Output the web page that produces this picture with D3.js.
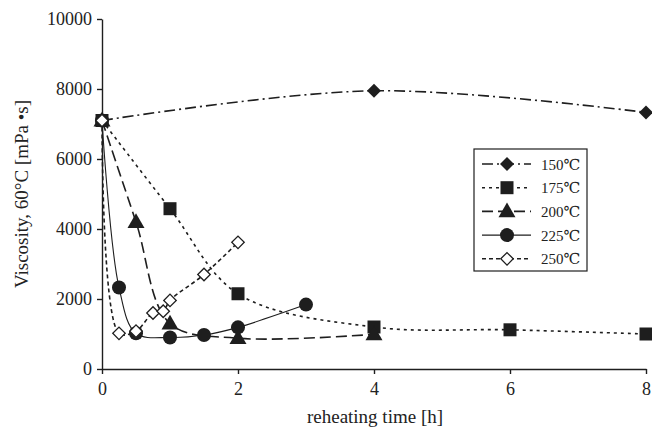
<!DOCTYPE html>
<html>
<head>
<meta charset="utf-8">
<script src="https://d3js.org/d3.v7.min.js"></script>
<style>
  body { margin: 0; background: #fff; }
  text { font-family: "Liberation Serif", "DejaVu Serif", serif; fill: #222; }
</style>
</head>
<body>
<div id="chart"></div>
<script>
  // data (time in h, viscosity in mPa·s)
  var t150 = [0, 4, 8];
  var v150 = [7100, 7950, 7330];
  var t175 = [0, 1, 2, 4, 6, 8];
  var v175 = [7100, 4580, 2150, 1200, 1120, 1000];
  var t200 = [0, 0.5, 1, 2, 4];
  var v200 = [7100, 4200, 1300, 880, 990];
  var t225 = [0, 0.25, 0.5, 1, 1.5, 2, 3];
  var v225 = [7100, 2330, 1020, 900, 970, 1190, 1840];
  var t250 = [0, 0.25, 0.5, 0.75, 0.9, 1, 1.5, 2];
  var v250 = [7100, 1020, 1080, 1600, 1650, 1960, 2700, 3620];
  var seriesNames = ["150℃", "175℃", "200℃", "225℃", "250℃"];
  var xTicks = [0, 2, 4, 6, 8];
  var yTicks = [0, 2000, 4000, 6000, 8000, 10000];

  var width = 652, height = 430;
  var x = d3.scaleLinear().domain([0, 8]).range([102, 646]);
  var y = d3.scaleLinear().domain([0, 10000]).range([369, 19]);

  var svg = d3.select("#chart").append("svg")
    .attr("width", width).attr("height", height);

  var ink = "#1e1e1e";

  // styles per series
  var dash = ["11,4,2,4", "3,4", "11,5", null, "4,3"];
  var marker = ["diamond", "square", "triangle", "circle", "open"];
  var times = [t150, t175, t200, t225, t250];
  var vals = [v150, v175, v200, v225, v250];

  function drawMarker(g, kind, cx, cy) {
    if (kind == "circle") {
      g.append("circle").attr("cx", cx).attr("cy", cy).attr("r", 7).attr("fill", ink);
    } else if (kind == "square") {
      g.append("rect").attr("x", cx - 6.5).attr("y", cy - 6.5)
        .attr("width", 13).attr("height", 13).attr("fill", ink);
    } else if (kind == "triangle") {
      g.append("path").attr("d", d3.symbol().type(d3.symbolTriangle).size(125)())
        .attr("transform", "translate(" + cx + "," + (cy + 1) + ")").attr("fill", ink);
    } else if (kind == "diamond") {
      g.append("path").attr("d", d3.symbol().type(d3.symbolSquare).size(98)())
        .attr("transform", "translate(" + cx + "," + cy + ") rotate(45)").attr("fill", ink);
    } else {
      g.append("path").attr("d", d3.symbol().type(d3.symbolSquare).size(78)())
        .attr("transform", "translate(" + cx + "," + cy + ") rotate(45)")
        .attr("fill", "#fff").attr("stroke", ink).attr("stroke-width", 1.3);
    }
  }

  // axes
  var yAxis = d3.axisLeft(y).tickValues(yTicks).tickFormat(d3.format("d"))
    .tickSize(5).tickSizeOuter(0).tickPadding(5);
  var gy = svg.append("g").attr("transform", "translate(102,0)").call(yAxis);
  var xAxis = d3.axisBottom(x).tickValues(xTicks).tickFormat(d3.format("d"))
    .tickSize(5).tickSizeOuter(0).tickPadding(8);
  var gx = svg.append("g").attr("transform", "translate(0,369)").call(xAxis);
  [gx, gy].forEach(function (g) {
    g.attr("font-family", "Liberation Serif").attr("font-size", 18);
    g.selectAll("path, line").attr("stroke", ink).attr("stroke-width", 1.4);
    g.selectAll("text").attr("fill", "#333");
  });

  // lines
  var line = d3.line()
    .x(function (d) { return x(d[0]); })
    .y(function (d) { return y(d[1]); })
    .curve(d3.curveCatmullRom.alpha(0.5));

  times.forEach(function (ts, i) {
    var pts = ts.map(function (t, j) { return [t, vals[i][j]]; });
    svg.append("path").datum(pts)
      .attr("d", line)
      .attr("fill", "none")
      .attr("stroke", ink)
      .attr("stroke-width", i == 3 ? 1.1 : 1.6)
      .attr("stroke-dasharray", dash[i]);
  });
  times.forEach(function (ts, i) {
    var g = svg.append("g");
    ts.forEach(function (t, j) { drawMarker(g, marker[i], x(t), y(vals[i][j])); });
  });

  // axis titles
  svg.append("text")
    .attr("transform", "translate(28,194) rotate(-90)")
    .attr("text-anchor", "middle")
    .attr("font-size", 19)
    .text("Viscosity, 60°C [mPa •s]");
  svg.append("text")
    .attr("x", 375).attr("y", 423)
    .attr("text-anchor", "middle")
    .attr("font-size", 19)
    .text("reheating time [h]");

  // legend
  var lg = svg.append("g");
  lg.append("rect").attr("x", 474).attr("y", 149).attr("width", 113).attr("height", 122)
    .attr("fill", "#fff").attr("stroke", ink).attr("stroke-width", 1.2);
  seriesNames.forEach(function (name, i) {
    var ly = 164 + i * 23.7;
    lg.append("line").attr("x1", 482).attr("x2", 531).attr("y1", ly).attr("y2", ly)
      .attr("stroke", ink).attr("stroke-width", i == 3 ? 1.1 : 1.6)
      .attr("stroke-dasharray", dash[i]);
    drawMarker(lg, marker[i], 507, ly);
    lg.append("text").attr("x", 541).attr("y", ly + 5.5)
      .attr("font-size", 15).attr("fill", "#333").text(name);
  });
</script>
</body>
</html>
